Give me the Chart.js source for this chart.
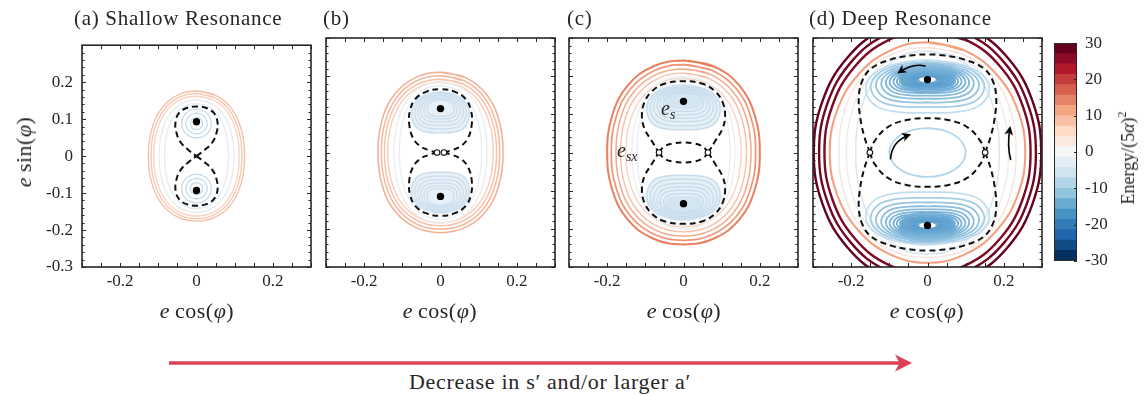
<!DOCTYPE html>
<html>
<head>
<meta charset="utf-8">
<title>Resonance energy contours</title>
<script src="https://cdn.jsdelivr.net/npm/chart.js@4.4.1/dist/chart.umd.min.js"></script>
<style>
  body { margin: 0; background: #fff; }
  #fig { position: relative; width: 1144px; height: 396px; overflow: hidden;
         font-family: 'Liberation Serif', 'Times New Roman', serif; color: #262626; }
  #fig canvas { position: absolute; }
  .lbl { position: absolute; white-space: nowrap; line-height: 1; }
  .ttl { font-size: 21px; letter-spacing: 0.7px; }
  .ax { font-size: 22px; letter-spacing: 0.5px; }
  .ctr { transform: translateX(-50%); }
  .rot { transform: translate(-50%, -50%) rotate(-90deg); }
  sub { font-size: 14px; vertical-align: -4px; line-height: 0; }
  sup { font-size: 12px; vertical-align: 8px; line-height: 0; }
</style>
</head>
<body>
<div id="fig">
  <canvas id="pa" width="287" height="285" style="left:32px;top:26px"></canvas>
  <canvas id="pb" width="245" height="285" style="left:318px;top:26px"></canvas>
  <canvas id="pc" width="245" height="285" style="left:561px;top:26px"></canvas>
  <canvas id="pd" width="245" height="285" style="left:805px;top:26px"></canvas>
  <canvas id="cb" width="83" height="254" style="left:1054px;top:25px"></canvas>

  <div class="lbl ttl" style="left:74px;top:8px">(a) Shallow Resonance</div>
  <div class="lbl ttl" style="left:323px;top:8px">(b)</div>
  <div class="lbl ttl" style="left:567px;top:8px">(c)</div>
  <div class="lbl ttl" style="left:809px;top:8px">(d) Deep Resonance</div>

  <div class="lbl ax ctr" style="left:197px;top:300px"><i>e</i>&thinsp;cos(<i>φ</i>)</div>
  <div class="lbl ax ctr" style="left:440px;top:300px"><i>e</i>&thinsp;cos(<i>φ</i>)</div>
  <div class="lbl ax ctr" style="left:684px;top:300px"><i>e</i>&thinsp;cos(<i>φ</i>)</div>
  <div class="lbl ax ctr" style="left:927px;top:300px"><i>e</i>&thinsp;cos(<i>φ</i>)</div>
  <div class="lbl ax rot" style="left:24px;top:152px"><i>e</i>&thinsp;sin(<i>φ</i>)</div>
  <div class="lbl rot" style="left:1128px;top:158px;font-size:18px">Energy/(5<i>α</i>)<sup>2</sup></div>

  <div class="lbl" style="left:661px;top:98px;font-size:20px"><i>e</i><sub><i>s</i></sub></div>
  <div class="lbl" style="left:617px;top:140px;font-size:20px"><i>e</i><sub><i>sx</i></sub></div>

  <svg style="position:absolute;left:0;top:350px" width="1144" height="26">
    <line x1="169" y1="13" x2="900" y2="13" stroke="#db4257" stroke-width="3.5"/>
    <polygon points="912,13 895,4.5 899.5,13 895,21.5" fill="#db4257"/>
  </svg>
  <div class="lbl ctr" style="left:550px;top:371px;font-size:22px;letter-spacing:0.7px">Decrease in s′ and/or larger a′</div>
</div>

<script>
// ---------- values (all in units of e) ----------
const xTickLabels = [-0.2, 0, 0.2];
const yTickLabels = [-0.3, -0.2, -0.1, 0, 0.1, 0.2];
const cbTickLabels = [-30, -20, -10, 0, 10, 20, 30];
const cbBandEdges = [-30, -27.14, -24.29, -21.43, -18.57, -15.71, -12.86, -10, -7.14, -4.29, -1.43,
                     1.43, 4.29, 7.14, 10, 12.86, 15.71, 18.57, 21.43, 24.29, 27.14, 30];

// (a) shallow resonance
const aOrangeHW = [0.126, 0.119, 0.112];
const aOrangeHH = [0.176, 0.169, 0.162];
const aPaleHW = [0.098, 0.084];
const aPaleHH = [0.152, 0.142];
const aSepRight = [[0, 0], [0.022, 0.017], [0.042, 0.038], [0.053, 0.065], [0.055, 0.092], [0.046, 0.116], [0.026, 0.13], [0, 0.134]];
const aRingR = [0.016, 0.028, 0.039];
const aRingY = 0.088;
const aDotY = 0.093;

// (b)
const bOrangeHW = [0.164, 0.155, 0.147, 0.138];
const bOrangeHH = [0.21, 0.201, 0.192, 0.184];
const bPaleHW = [0.122, 0.108];
const bPaleHH = [0.185, 0.176];
const bSepRight = [[0.009, 0], [0.03, 0.006], [0.055, 0.018], [0.073, 0.04], [0.082, 0.075], [0.08, 0.11], [0.066, 0.14], [0.038, 0.159], [0, 0.166]];
const bLobeHW = [0.076, 0.068, 0.06, 0.052, 0.044, 0.036];
const bLobeTop = [0.158, 0.154, 0.15, 0.146, 0.142, 0.138];
const bLobeBottom = [0.052, 0.062, 0.071, 0.08, 0.088, 0.095];
const bDotY = 0.115;
const bSaddleX = 0.009;

// (c)
const cOrangeHW = [0.2, 0.189, 0.177, 0.165, 0.151];
const cOrangeHH = [0.241, 0.23, 0.219, 0.208, 0.195];
const cPaleHW = [0.135, 0.122];
const cPaleHH = [0.2, 0.192];
const cSepRight = [[0.065, 0], [0.083, 0.03], [0.102, 0.062], [0.109, 0.095], [0.103, 0.13], [0.083, 0.16], [0.05, 0.18], [0, 0.187]];
const cInnerRight = [[0.065, 0], [0.05, 0.016], [0.027, 0.024], [0, 0.026]];
const cLobeHW = [0.097, 0.088, 0.079, 0.07, 0.062, 0.053];
const cLobeTop = [0.176, 0.172, 0.168, 0.164, 0.16, 0.156];
const cLobeBottom = [0.06, 0.07, 0.081, 0.09, 0.099, 0.108];
const cDotY = 0.134;
const cSaddleX = 0.064;

// (d) deep resonance
const dRedHW = [0.27, 0.284, 0.298];
const dRedHH = [0.318, 0.334, 0.35];
const dOrangeHW = [0.256];
const dOrangeHH = [0.289];
const dPaleHW = [0.232, 0.212];
const dPaleHH = [0.275, 0.266];
const dOuterBlueHW = 0.188;
const dOuterBlueHH = 0.265;
const dSepRight = [[0.151, 0], [0.165, 0.04], [0.176, 0.09], [0.18, 0.145], [0.17, 0.19], [0.145, 0.222], [0.095, 0.244], [0.045, 0.254], [0, 0.257]];
const dInnerRight = [[0.151, 0], [0.14, 0.028], [0.105, 0.066], [0.055, 0.085], [0, 0.09]];
const dInnerBlueHW = 0.1;
const dInnerBlueHH = 0.064;
const dLobeHW = [0.163, 0.15, 0.136, 0.122, 0.11, 0.1, 0.09, 0.081, 0.073, 0.066, 0.058, 0.05, 0.042, 0.034];
const dLobeTop = [0.242, 0.237, 0.232, 0.228, 0.224, 0.22, 0.216, 0.212, 0.209, 0.206, 0.203, 0.2, 0.198, 0.197];
const dLobeBottom = [0.104, 0.119, 0.131, 0.141, 0.149, 0.156, 0.161, 0.165, 0.169, 0.171, 0.174, 0.176, 0.178, 0.18];
const dDotY = 0.191;
const dSaddleX = 0.151;
const dArrows = [
  { from: [-0.005, 0.226], ctrl: [-0.035, 0.236], to: [-0.075, 0.21] },
  { from: [-0.097, -0.018], ctrl: [-0.094, 0.03], to: [-0.048, 0.046] },
  { from: [0.218, -0.02], ctrl: [0.208, 0.02], to: [0.216, 0.064] }
];

// ---------- styling ----------
const cbColors = ['#053061', '#134b86', '#2166ac', '#327cb7', '#4393c3', '#6aacd0', '#92c5de', '#b1d5e7', '#d1e5f0', '#e4eef4', '#f7f7f7',
                  '#fae9df', '#fddbc7', '#f8c0a4', '#f4a582', '#e58267', '#d6604d', '#c43c3c', '#b2182b', '#8c0c25', '#67001f'];
const SEP = '#111';
const DASH = [6, 4];

// unit outlines: quarter from top (0,1) to right (1,0); lobe half from outer tip to inner tip
const ELLIPSE_Q = [[0, 1], [0.383, 0.924], [0.707, 0.707], [0.924, 0.383], [1, 0]];
const SOFT_Q = [[0, 1], [0.4, 0.935], [0.73, 0.73], [0.935, 0.4], [1, 0]];
const LOBE_H = [[0, 1], [0.5, 0.93], [0.82, 0.78], [0.98, 0.55], [0.96, 0.3], [0.78, 0.1], [0.42, 0.01], [0, 0]];

Chart.defaults.font.family = "'Liberation Serif', 'Times New Roman', serif";
Chart.defaults.color = '#262626';

function ring(q, hw, hh, cy = 0) {
  const pts = [];
  q.forEach(([u, v]) => pts.push({ x: u * hw, y: cy + v * hh }));
  q.slice(0, -1).reverse().forEach(([u, v]) => pts.push({ x: u * hw, y: cy - v * hh }));
  q.slice(1).forEach(([u, v]) => pts.push({ x: -u * hw, y: cy - v * hh }));
  q.slice(0, -1).reverse().forEach(([u, v]) => pts.push({ x: -u * hw, y: cy + v * hh }));
  pts.push(pts[1]); // overlap one segment so the join stays smooth
  return pts;
}

function lobe(hw, yt, yb, sign) {
  const at = ([u, v], s) => ({ x: s * u * hw, y: sign * (yb + v * (yt - yb)) });
  const right = LOBE_H.map(p => at(p, 1));
  const left = LOBE_H.slice(1, -1).reverse().map(p => at(p, -1));
  return right.concat(left, [right[0], right[1]]);
}

function arc(right, sign) {
  const r = right.map(([x, y]) => ({ x: x, y: sign * y }));
  const l = right.slice(0, -1).reverse().map(([x, y]) => ({ x: -x, y: sign * y }));
  return r.concat(l);
}

function line(pts, color, width, dash) {
  return { data: pts, showLine: true, borderColor: color, borderWidth: width, borderDash: dash || [],
           pointRadius: 0, tension: 0.4, fill: false };
}

function patch(pts, color) {
  return { data: pts, showLine: true, borderWidth: 0, borderColor: 'rgba(0,0,0,0)', backgroundColor: color,
           pointRadius: 0, tension: 0.4, fill: 'shape' };
}

function dots(pts) {
  return { data: pts.map(([x, y]) => ({ x, y })), showLine: false, pointRadius: 3.7,
           pointBackgroundColor: '#000', pointBorderWidth: 0 };
}

function saddles(pts) {
  return { data: pts.map(([x, y]) => ({ x, y })), showLine: false, pointRadius: 2.8,
           pointBackgroundColor: '#fff', pointBorderColor: '#111', pointBorderWidth: 1.1 };
}

const fmt = v => (v === 0 ? '0' : v.toFixed(1));

const frameTicks = {
  id: 'frameTicks',
  afterDatasetsDraw(chart) {
    const { ctx, chartArea: a } = chart;
    const x = chart.scales.x, y = chart.scales.y;
    ctx.save();
    ctx.strokeStyle = '#262626';
    ctx.lineWidth = 1;
    ctx.beginPath();
    for (let i = -6; i <= 6; i++) {
      const px = Math.round(x.getPixelForValue(i * 0.05)) + 0.5;
      ctx.moveTo(px, a.bottom); ctx.lineTo(px, a.bottom - 4);
      ctx.moveTo(px, a.top); ctx.lineTo(px, a.top + 4);
    }
    for (let i = -15; i <= 15; i++) {
      const py = Math.round(y.getPixelForValue(i * 0.02)) + 0.5;
      const len = i % 5 === 0 ? 4 : 2.5;
      ctx.moveTo(a.left, py); ctx.lineTo(a.left + len, py);
      ctx.moveTo(a.right, py); ctx.lineTo(a.right - len, py);
    }
    ctx.stroke();
    ctx.lineWidth = 1.6;
    ctx.strokeRect(a.left, a.top, a.right - a.left, a.bottom - a.top);
    ctx.restore();
  }
};

function arrowPlugin(list) {
  return {
    id: 'curvedArrows',
    afterDatasetsDraw(chart) {
      const { ctx } = chart;
      const x = chart.scales.x, y = chart.scales.y;
      const P = p => [x.getPixelForValue(p[0]), y.getPixelForValue(p[1])];
      list.forEach(a => {
        const [x0, y0] = P(a.from), [cx, cy] = P(a.ctrl), [x1, y1] = P(a.to);
        ctx.save();
        ctx.strokeStyle = '#000';
        ctx.fillStyle = '#000';
        ctx.lineWidth = 1.6;
        ctx.beginPath();
        ctx.moveTo(x0, y0);
        ctx.quadraticCurveTo(cx, cy, x1, y1);
        ctx.stroke();
        ctx.translate(x1, y1);
        ctx.rotate(Math.atan2(y1 - cy, x1 - cx));
        ctx.beginPath();
        ctx.moveTo(2, 0); ctx.lineTo(-7, -4.5); ctx.lineTo(-4.5, 0); ctx.lineTo(-7, 4.5);
        ctx.closePath();
        ctx.fill();
        ctx.restore();
      });
    }
  };
}

function panel(id, layers, showY, extra) {
  new Chart(document.getElementById(id), {
    type: 'scatter',
    data: { datasets: layers.slice().reverse() },
    options: {
      responsive: false, animation: false, devicePixelRatio: 1, events: [],
      layout: { padding: { left: showY ? 0 : 8, right: 8, top: 12, bottom: 0 } },
      elements: { line: { capBezierPoints: false, borderCapStyle: 'butt' } },
      plugins: { legend: { display: false }, tooltip: { enabled: false } },
      scales: {
        x: {
          min: -0.3, max: 0.3,
          grid: { display: false, drawTicks: false }, border: { display: false },
          afterBuildTicks: s => { s.ticks = xTickLabels.map(v => ({ value: v })); },
          afterFit: s => { s.height = 44; },
          ticks: { autoSkip: false, maxRotation: 0, padding: 4, font: { size: 17 }, callback: fmt }
        },
        y: {
          display: showY, min: -0.3, max: 0.3,
          grid: { display: false, drawTicks: false }, border: { display: false },
          afterBuildTicks: s => { s.ticks = yTickLabels.map(v => ({ value: v })); },
          afterFit: s => { s.width = showY ? 50 : 0; },
          ticks: { autoSkip: false, padding: 9, font: { size: 17 }, callback: fmt }
        }
      }
    },
    plugins: [frameTicks].concat(extra || [])
  });
}

// ---------- (a) ----------
const aOrangeColors = ['#f5bfa8', '#f7c9b5', '#f9d3c3'];
const aPaleColors = ['#ebebeb', '#e4ecf2'];
panel('pa', [
  ...aOrangeHW.map((hw, i) => line(ring(SOFT_Q, hw, aOrangeHH[i]), aOrangeColors[i], 1.4)),
  ...aPaleHW.map((hw, i) => line(ring(SOFT_Q, hw, aPaleHH[i]), aPaleColors[i], 1.3)),
  ...aRingR.map(r => line(ring(ELLIPSE_Q, r, r, aRingY), '#c7dcec', 1.3)),
  ...aRingR.map(r => line(ring(ELLIPSE_Q, r, r, -aRingY), '#c7dcec', 1.3)),
  line(arc(aSepRight, 1), SEP, 2, DASH),
  line(arc(aSepRight, -1), SEP, 2, DASH),
  dots([[0, aDotY], [0, -aDotY]])
], true);

// ---------- (b) ----------
const bOrangeColors = ['#f3ae92', '#f5b89e', '#f7c3ad', '#f9cfbd'];
const bPaleColors = ['#ececec', '#e8eef3'];
panel('pb', [
  patch(lobe(0.079, 0.162, 0.05, 1), '#e7f0f7'),
  patch(lobe(0.079, 0.162, 0.05, -1), '#e7f0f7'),
  ...bOrangeHW.map((hw, i) => line(ring(SOFT_Q, hw, bOrangeHH[i]), bOrangeColors[i], 1.5)),
  ...bPaleHW.map((hw, i) => line(ring(SOFT_Q, hw, bPaleHH[i]), bPaleColors[i], 1.3)),
  ...bLobeHW.map((hw, i) => line(lobe(hw, bLobeTop[i], bLobeBottom[i], 1), '#cbdeed', 1.3)),
  ...bLobeHW.map((hw, i) => line(lobe(hw, bLobeTop[i], bLobeBottom[i], -1), '#cbdeed', 1.3)),
  line(arc(bSepRight, 1), SEP, 2, DASH),
  line(arc(bSepRight, -1), SEP, 2, DASH),
  dots([[0, bDotY], [0, -bDotY]]),
  saddles([[-bSaddleX, 0], [bSaddleX, 0]])
], false);

// ---------- (c) ----------
const cOrangeColors = ['#e8805f', '#ee9576', '#f2aa8f', '#f6c0a9', '#f9d3c3'];
const cOrangeWidths = [2, 1.7, 1.5, 1.4, 1.4];
const cPaleColors = ['#eeeeee', '#e6eef4'];
panel('pc', [
  patch(lobe(0.1, 0.18, 0.058, 1), '#e5eff6'),
  patch(lobe(0.1, 0.18, 0.058, -1), '#e5eff6'),
  patch(lobe(0.05, 0.156, 0.114, 1), '#d2e5f1'),
  patch(lobe(0.05, 0.156, 0.114, -1), '#d2e5f1'),
  ...cOrangeHW.map((hw, i) => line(ring(SOFT_Q, hw, cOrangeHH[i]), cOrangeColors[i], cOrangeWidths[i])),
  ...cPaleHW.map((hw, i) => line(ring(SOFT_Q, hw, cPaleHH[i]), cPaleColors[i], 1.3)),
  ...cLobeHW.map((hw, i) => line(lobe(hw, cLobeTop[i], cLobeBottom[i], 1), '#c6dcec', 1.3)),
  ...cLobeHW.map((hw, i) => line(lobe(hw, cLobeTop[i], cLobeBottom[i], -1), '#c6dcec', 1.3)),
  line(arc(cSepRight, 1), SEP, 2, DASH),
  line(arc(cSepRight, -1), SEP, 2, DASH),
  line(arc(cInnerRight, 1), SEP, 2, DASH),
  line(arc(cInnerRight, -1), SEP, 2, DASH),
  dots([[0, cDotY], [0, -cDotY]]),
  saddles([[-cSaddleX, 0], [cSaddleX, 0]])
], false);

// ---------- (d) ----------
const dRedColors = ['#7d0a25', '#720524', '#67001f'];
const dPaleColors = ['#f7e3da', '#ececec'];
const dLobeColors = ['#c2ddee', '#a6cde5', '#95c3e0', '#8bbddd', '#82b8db', '#7ab3d8', '#74afd6',
                     '#6eabd4', '#69a8d2', '#65a5d1', '#62a3d0', '#5fa1cf', '#5c9fce', '#5a9dcd'];
panel('pd', [
  patch(lobe(0.075, 0.238, 0.168, 1), '#70acd4'),
  patch(lobe(0.075, 0.238, 0.168, -1), '#70acd4'),
  ...dRedHW.map((hw, i) => line(ring(ELLIPSE_Q, hw, dRedHH[i]), dRedColors[i], 2.4)),
  ...dOrangeHW.map((hw, i) => line(ring(ELLIPSE_Q, hw, dOrangeHH[i]), '#f4a07f', 2.1)),
  ...dPaleHW.map((hw, i) => line(ring(SOFT_Q, hw, dPaleHH[i]), dPaleColors[i], 1.3)),
  line(ring(SOFT_Q, dOuterBlueHW, dOuterBlueHH), '#d6e7f2', 1.4),
  ...dLobeHW.map((hw, i) => line(lobe(hw, dLobeTop[i], dLobeBottom[i], 1), dLobeColors[i], 1.8)),
  ...dLobeHW.map((hw, i) => line(lobe(hw, dLobeTop[i], dLobeBottom[i], -1), dLobeColors[i], 1.8)),
  line(ring(ELLIPSE_Q, dInnerBlueHW, dInnerBlueHH), '#b4d5ea', 1.8),
  line(arc(dSepRight, 1), SEP, 2, DASH),
  line(arc(dSepRight, -1), SEP, 2, DASH),
  line(arc(dInnerRight, 1), SEP, 2, DASH),
  line(arc(dInnerRight, -1), SEP, 2, DASH),
  patch(ring(ELLIPSE_Q, 0.022, 0.007, dDotY), '#ffffff'),
  patch(ring(ELLIPSE_Q, 0.022, 0.007, -dDotY), '#ffffff'),
  dots([[0, dDotY], [0, -dDotY]]),
  saddles([[-dSaddleX, 0], [dSaddleX, 0]])
], false, [arrowPlugin(dArrows)]);

// ---------- colour bar ----------
const cbFrame = {
  id: 'cbFrame',
  afterDatasetsDraw(chart) {
    const { ctx, chartArea: a } = chart;
    const y = chart.scales.y;
    ctx.save();
    ctx.strokeStyle = '#262626';
    ctx.lineWidth = 1;
    ctx.beginPath();
    cbTickLabels.forEach(v => {
      const py = Math.round(y.getPixelForValue(v)) + 0.5;
      ctx.moveTo(a.right, py); ctx.lineTo(a.right - 3, py);
    });
    ctx.stroke();
    ctx.strokeRect(a.left + 0.5, a.top + 0.5, a.right - a.left - 1, a.bottom - a.top - 1);
    ctx.restore();
  }
};

new Chart(document.getElementById('cb'), {
  type: 'bar',
  data: {
    labels: [''],
    datasets: cbColors.map((c, i) => ({
      data: [[cbBandEdges[i], cbBandEdges[i + 1]]], backgroundColor: c, borderWidth: 0,
      barPercentage: 1, categoryPercentage: 1, grouped: false
    }))
  },
  options: {
    responsive: false, animation: false, devicePixelRatio: 1, events: [],
    layout: { padding: { left: 0, right: 0, top: 12, bottom: 12 } },
    plugins: { legend: { display: false }, tooltip: { enabled: false } },
    scales: {
      x: { display: false },
      y: {
        position: 'right', min: -30, max: 30,
        grid: { display: false, drawTicks: false }, border: { display: false },
        afterBuildTicks: s => { s.ticks = cbTickLabels.map(v => ({ value: v })); },
        afterFit: s => { s.width = 60; },
        ticks: { padding: 8, font: { size: 17 } }
      }
    }
  },
  plugins: [cbFrame]
});
</script>
</body>
</html>
